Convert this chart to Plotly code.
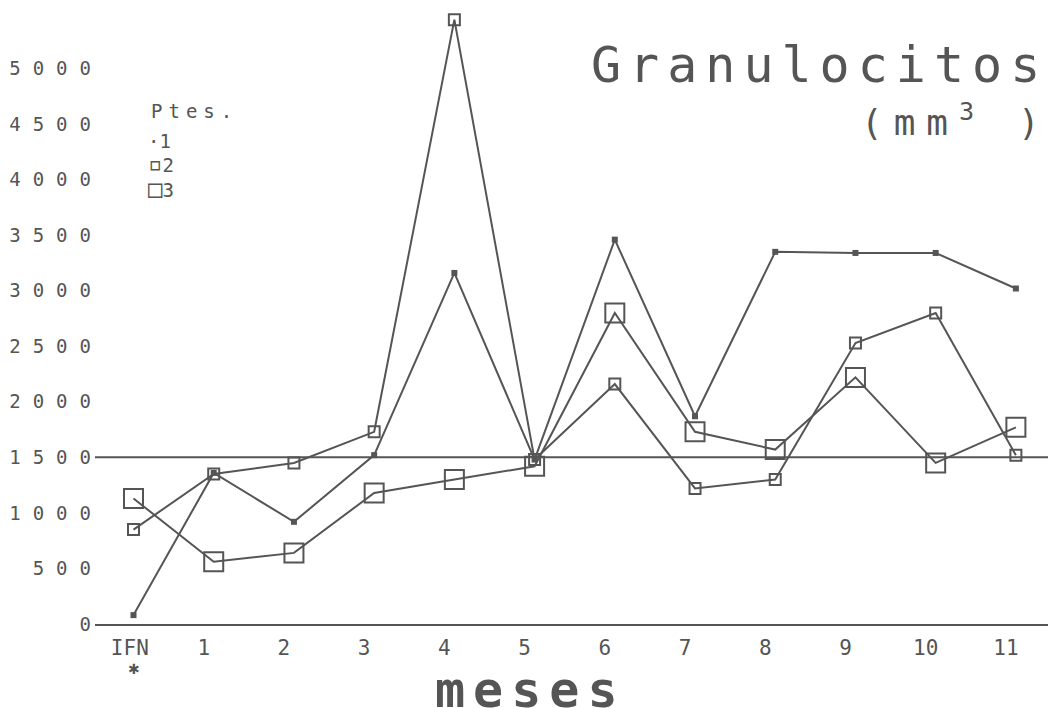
import plotly.graph_objects as go

# ---- data ----
months = ["IFN", "1", "2", "3", "4", "5", "6", "7", "8", "9", "10", "11"]
pte1 = [80, 1360, 920, 1520, 3160, 1480, 3460, 1870, 3350, 3340, 3340, 3020]
pte2 = [850, 1350, 1450, 1730, 5440, 1480, 2160, 1220, 1300, 2530, 2800, 1520]
pte3 = [1130, 560, 640, 1180, 1300, 1420, 2800, 1730, 1570, 2220, 1450, 1770]
series_names = ["1", "2", "3"]
y_ticks = [0, 500, 1000, 1500, 2000, 2500, 3000, 3500, 4000, 4500, 5000]
ref_level = 1500
start_label = "IFN"
start_mark = "\u2731"

INK = "#555555"
MONO = "DejaVu Sans Mono"


def spaced(s, px):
    """Letter-spaced text, without trailing space after the last char."""
    if len(s) <= 1:
        return s
    return f'<span style="letter-spacing:{px}px">{s[:-1]}</span>{s[-1]}'


styles = [
    dict(symbol="square", size=6, color=INK),
    dict(symbol="square-open", size=11, color=INK, line=dict(width=2, color=INK)),
    dict(symbol="square-open", size=19, color=INK, line=dict(width=2, color=INK)),
]

fig = go.Figure()
for name, vals, mk in zip(series_names, [pte1, pte2, pte3], styles):
    fig.add_trace(go.Scatter(
        x=months, y=vals, name=name, mode="lines+markers",
        line=dict(color=INK, width=2),
        marker=mk, showlegend=False,
    ))

# reference line
fig.add_shape(type="line", xref="paper", x0=0, x1=1, yref="y",
              y0=ref_level, y1=ref_level, line=dict(color=INK, width=2))

x_ticktext = ["\u00a0" + m if m == start_label else m for m in months]

fig.update_xaxes(
    type="category", range=[-0.48, 11.5],
    tickvals=months, ticktext=x_ticktext,
    showline=True, linecolor=INK, linewidth=2,
    ticks="", showgrid=False, zeroline=False,
    tickfont=dict(family=MONO, size=21, color=INK),
    ticklabelshift=-10, ticklabelstandoff=4,
)
fig.update_yaxes(
    range=[0, 5500], tickvals=y_ticks,
    ticktext=[spaced(str(v), 12) for v in y_ticks],
    showline=False, ticks="", showgrid=False, zeroline=False,
    tickfont=dict(family=MONO, size=19, color=INK),
    ticklabelstandoff=3,
)

ann = []
ann.append(dict(text=start_mark, xref="x", yref="paper", x=start_label, y=-0.073,
                xanchor="center", yanchor="middle", showarrow=False,
                font=dict(family="DejaVu Sans", size=14, color=INK)))
ann.append(dict(text=spaced("Granulocitos", 8), xref="paper", yref="paper",
                x=0.985, y=0.915, xanchor="right", yanchor="middle",
                showarrow=False, font=dict(family=MONO, size=50, color=INK)))
ann.append(dict(text='<span style="letter-spacing:11px">(mm<sup>3</sup> </span>)',
                xref="paper", yref="paper",
                x=0.985, y=0.825, xanchor="right", yanchor="middle",
                showarrow=False, font=dict(family=MONO, size=36, color=INK)))
ann.append(dict(text=spaced("meses", 8), xref="paper", yref="paper",
                x=0.4495, y=-0.108, xanchor="center", yanchor="middle",
                showarrow=False, font=dict(family=MONO, size=50, color=INK, weight="bold")))
# legend
ann.append(dict(text=spaced("Ptes.", 6), xref="paper", yref="paper",
                x=0.1, y=0.84, xanchor="center", yanchor="middle",
                showarrow=False, font=dict(family=MONO, size=19, color=INK)))
legend_syms = ["\u00b7", "\u25ab", "\u25a1"]
legend_sym_sizes = [19, 24, 24]
legend_y = [0.791, 0.753, 0.712]
for sym, ssz, nm, ly in zip(legend_syms, legend_sym_sizes, series_names, legend_y):
    ann.append(dict(text=f'<span style="font-size:{ssz}px">{sym}</span>{nm}',
                    xref="paper", yref="paper",
                    x=0.053, y=ly, xanchor="left", yanchor="middle",
                    showarrow=False, font=dict(family=MONO, size=19, color=INK)))

# page body adds an 8px offset; size the figure so the plot sits where the reference has it
fig.update_layout(
    width=1048, height=700,
    margin=dict(l=87, r=0, t=5, b=84),
    paper_bgcolor="white", plot_bgcolor="white",
    annotations=ann, showlegend=False,
)

fig.write_html("out.html")
